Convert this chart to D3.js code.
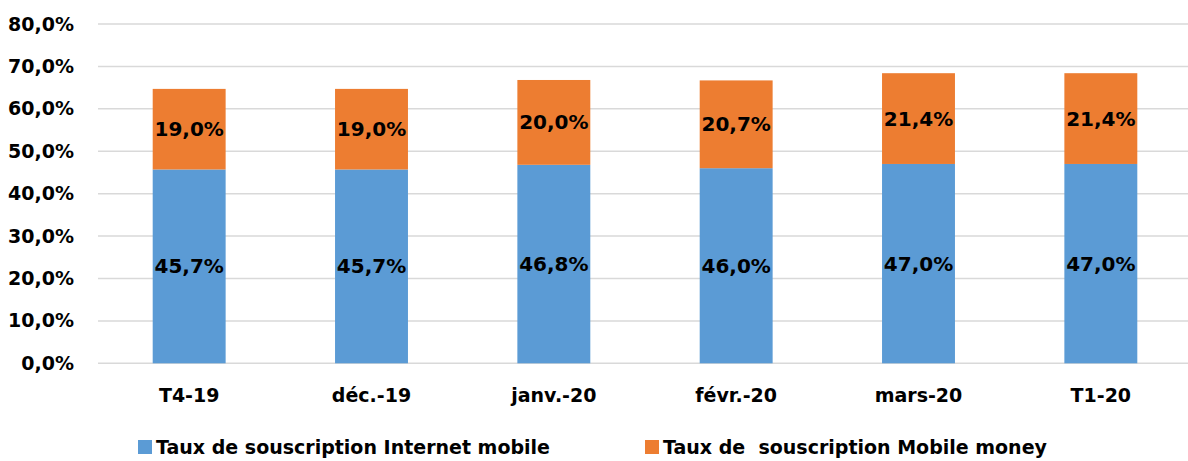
<!DOCTYPE html>
<html>
<head>
<meta charset="utf-8">
<script src="https://cdn.jsdelivr.net/npm/d3@7"></script>
<style>
  body { margin: 0; background: #fff; }
  text { font-family: "DejaVu Sans", sans-serif; font-weight: bold; fill: #000; }
</style>
</head>
<body>
<svg id="chart" width="1188" height="461"></svg>
<script>
const categories = ["T4-19", "déc.-19", "janv.-20", "févr.-20", "mars-20", "T1-20"];
const internetMobile = [45.7, 45.7, 46.8, 46.0, 47.0, 47.0];
const mobileMoney = [19.0, 19.0, 20.0, 20.7, 21.4, 21.4];
const seriesNames = ["Taux de souscription Internet mobile", "Taux de  souscription Mobile money"];
const yTicks = [0, 10, 20, 30, 40, 50, 60, 70, 80];
const colors = ["#5B9BD5", "#ED7D31"];

let svg = d3.select("#chart");

const margin = { left: 98, right: -4, top: 24, bottom: 98 };
const width = 1188, height = 461;

let x = d3.scaleBand()
    .domain(categories)
    .range([margin.left, width - margin.right])
    .paddingInner(0.6)
    .paddingOuter(0.3);

let y = d3.scaleLinear()
    .domain([0, 80])
    .range([363.3, 24]);

const fmt = v => v.toFixed(1).replace(".", ",") + "%";

// grid lines
svg.append("g")
    .selectAll("line")
    .data(yTicks)
    .enter().append("line")
    .attr("x1", margin.left)
    .attr("x2", width)
    .attr("y1", d => y(d))
    .attr("y2", d => y(d))
    .style("stroke", "#d9d9d9")
    .style("stroke-width", 1.5);

// y axis labels
let yAxis = svg.append("g")
    .attr("transform", `translate(${margin.left}, 0)`)
    .call(d3.axisLeft(y).tickValues(yTicks).tickFormat(fmt).tickSize(0).tickPadding(24));
yAxis.select(".domain").remove();
yAxis.selectAll("text")
    .style("font-size", "19px")
    .style("font-family", "DejaVu Sans, sans-serif")
    .style("font-weight", "bold")
    .attr("fill", "#000");

// x axis labels
let xAxis = svg.append("g")
    .attr("transform", `translate(0, ${y(0)})`)
    .call(d3.axisBottom(x).tickSize(0).tickPadding(25));
xAxis.select(".domain").remove();
xAxis.selectAll("text")
    .style("font-size", "19px")
    .style("font-family", "DejaVu Sans, sans-serif")
    .style("font-weight", "bold")
    .attr("fill", "#000");

// stacked bars
let stacked = categories.map((c, i) => ({ cat: c, a: internetMobile[i], b: mobileMoney[i] }));

let bars = svg.append("g");
bars.selectAll(".blue")
    .data(stacked)
    .enter().append("rect")
    .attr("x", d => x(d.cat))
    .attr("width", x.bandwidth())
    .attr("y", d => y(d.a))
    .attr("height", d => y(0) - y(d.a))
    .style("fill", colors[0]);

bars.selectAll(".orange")
    .data(stacked)
    .enter().append("rect")
    .attr("x", d => x(d.cat))
    .attr("width", x.bandwidth())
    .attr("y", d => y(d.a + d.b))
    .attr("height", d => y(d.a) - y(d.a + d.b))
    .style("fill", colors[1]);

// data labels
bars.selectAll(".lblA")
    .data(stacked)
    .enter().append("text")
    .attr("x", d => x(d.cat) + x.bandwidth() / 2)
    .attr("y", d => y(d.a / 2))
    .attr("dy", ".35em")
    .attr("text-anchor", "middle")
    .style("font-size", "20px")
    .text(d => fmt(d.a));

bars.selectAll(".lblB")
    .data(stacked)
    .enter().append("text")
    .attr("x", d => x(d.cat) + x.bandwidth() / 2)
    .attr("y", d => y(d.a + d.b / 2))
    .attr("dy", ".35em")
    .attr("text-anchor", "middle")
    .style("font-size", "20px")
    .text(d => fmt(d.b));

// legend
const legendX = [138, 645];
let legend = svg.append("g");
seriesNames.forEach((name, i) => {
    legend.append("rect")
        .attr("x", legendX[i])
        .attr("y", 440)
        .attr("width", 14)
        .attr("height", 14)
        .style("fill", colors[i]);
    legend.append("text")
        .attr("x", legendX[i] + 18)
        .attr("y", 447)
        .attr("dy", ".35em")
        .attr("xml:space", "preserve")
        .style("white-space", "pre")
        .style("font-size", "19px")
        .text(name);
});
</script>
</body>
</html>
